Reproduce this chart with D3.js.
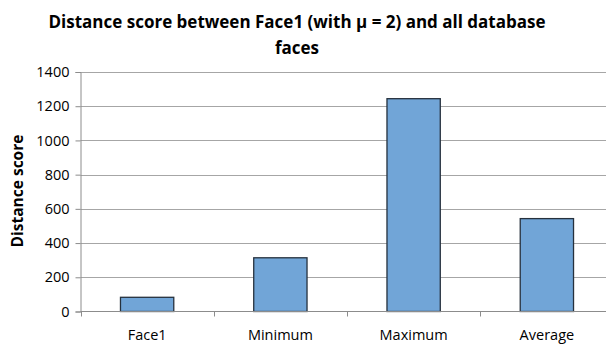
<!DOCTYPE html>
<html>
<head>
<meta charset="utf-8">
<script src="https://cdn.jsdelivr.net/npm/d3@7"></script>
<style>
  body { margin: 0; background: #fff; }
  svg { display: block; }
  text { font-family: "Open Sans", "Noto Sans", sans-serif; fill: #000; }
</style>
</head>
<body>
<svg id="chart" width="606" height="344"></svg>
<script>
// chart data
const categories = ["Face1", "Minimum", "Maximum", "Average"];
const scores = [83, 314, 1244, 543];
const yTicks = [0, 200, 400, 600, 800, 1000, 1200, 1400];
const titleLines = ["Distance score between Face1 (with \u03bc = 2) and all database", "faces"];

const svg = d3.select("#chart");

// plot area (runs a little past the right edge, like the original)
const plot = { left: 80.5, right: 613.5, top: 72, bottom: 311.5 };

const x = d3.scaleBand()
    .domain(categories)
    .range([plot.left, plot.right])
    .paddingInner(0.6)
    .paddingOuter(0.3);

const y = d3.scaleLinear()
    .domain([0, 1400])
    .range([plot.bottom, plot.top]);

// gridlines
svg.append("g")
    .selectAll("line")
    .data(yTicks.filter(d => d > 0))
    .join("line")
    .attr("x1", plot.left)
    .attr("x2", plot.right)
    .attr("y1", d => Math.round(y(d)) + 0.5)
    .attr("y2", d => Math.round(y(d)) + 0.5)
    .attr("stroke", "#a6a6a6")
    .attr("stroke-width", 1);

// bars
svg.append("g")
    .selectAll("rect")
    .data(categories)
    .join("rect")
    .attr("x", d => x(d))
    .attr("y", (d, i) => y(scores[i]))
    .attr("width", x.bandwidth())
    .attr("height", (d, i) => plot.bottom - y(scores[i]))
    .attr("fill", "#71a5d7")
    .attr("stroke", "#26313d")
    .attr("stroke-width", 1.3);

// y axis
const yAxis = svg.append("g")
    .attr("transform", `translate(${plot.left},0)`)
    .call(d3.axisLeft(y).tickValues(yTicks).tickSize(5).tickPadding(6).tickFormat(d3.format("d")));
yAxis.select(".domain").attr("stroke", "#8c8c8c");
yAxis.selectAll(".tick line").attr("stroke", "#8c8c8c");
yAxis.selectAll("text")
    .style("font-size", "14.5px")
    .attr("fill", "#000");

// x axis: ticks between categories
const boundaries = categories.map((d, i) => plot.left + i * x.step());
const xAxis = svg.append("g");
xAxis.append("line")
    .attr("x1", plot.left).attr("x2", plot.right)
    .attr("y1", plot.bottom).attr("y2", plot.bottom)
    .attr("stroke", "#8c8c8c");
xAxis.selectAll("line.tick")
    .data(boundaries)
    .join("line")
    .attr("class", "tick")
    .attr("x1", d => Math.round(d) + 0.5)
    .attr("x2", d => Math.round(d) + 0.5)
    .attr("y1", plot.bottom)
    .attr("y2", plot.bottom + 5)
    .attr("stroke", "#8c8c8c");
xAxis.selectAll("text")
    .data(categories)
    .join("text")
    .attr("x", d => x(d) + x.bandwidth() / 2)
    .attr("y", 340)
    .attr("text-anchor", "middle")
    .style("font-size", "14.5px")
    .text(d => d);

// y axis title
svg.append("text")
    .attr("transform", "translate(23,191) rotate(-90)")
    .attr("text-anchor", "middle")
    .style("font-size", "15.5px")
    .style("font-weight", "bold")
    .text("Distance score");

// chart title
svg.append("g")
    .selectAll("text")
    .data(titleLines)
    .join("text")
    .attr("x", 297)
    .attr("y", (d, i) => 28 + i * 25.5)
    .attr("text-anchor", "middle")
    .style("font-size", "17px")
    .style("font-weight", "bold")
    .text(d => d);
</script>
</body>
</html>
